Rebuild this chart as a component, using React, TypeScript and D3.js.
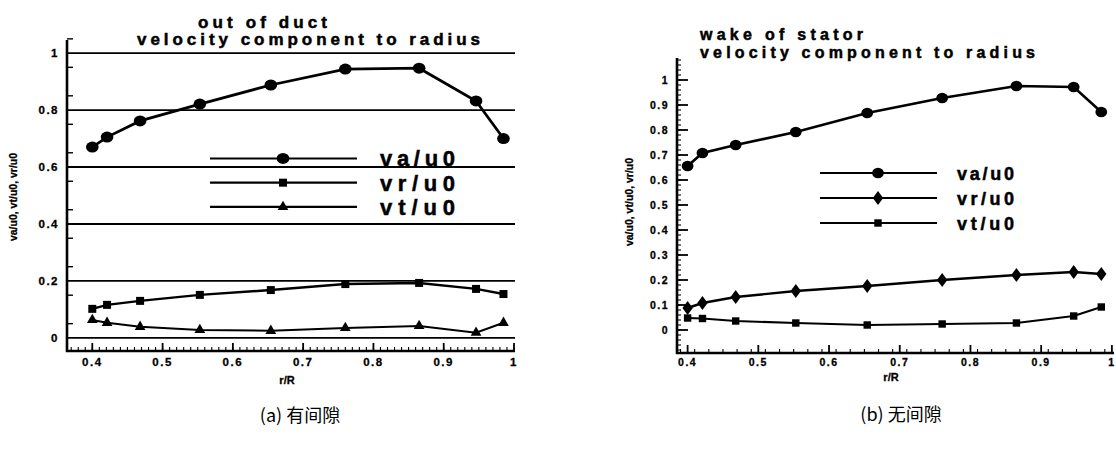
import React from 'react';
import * as d3 from 'd3';

// measuring stations r/R (shared by both panels)
const radius = [0.4, 0.421, 0.468, 0.553, 0.654, 0.76, 0.865, 0.946, 0.985];

// (a) out of duct
const ductVa = [0.67, 0.705, 0.762, 0.821, 0.888, 0.944, 0.947, 0.832, 0.7];
const ductVr = [0.102, 0.116, 0.13, 0.151, 0.168, 0.189, 0.193, 0.172, 0.154];
const ductVt = [0.063, 0.053, 0.039, 0.028, 0.025, 0.035, 0.042, 0.018, 0.053];

// (b) wake of stator
const statorVa = [0.656, 0.708, 0.74, 0.792, 0.868, 0.928, 0.976, 0.972, 0.872];
const statorVr = [0.088, 0.108, 0.132, 0.156, 0.176, 0.2, 0.22, 0.232, 0.224];
const statorVt = [0.048, 0.046, 0.036, 0.028, 0.02, 0.024, 0.028, 0.056, 0.092];

const xTicks = [0.4, 0.5, 0.6, 0.7, 0.8, 0.9, 1];
const ductYTicks = [0, 0.2, 0.4, 0.6, 0.8, 1];
const statorYTicks = [0, 0.1, 0.2, 0.3, 0.4, 0.5, 0.6, 0.7, 0.8, 0.9, 1];

const FONT = '"Liberation Sans", Arial, sans-serif';
const fmt = (v: number) => String(+v.toFixed(2));

type Series = { name: string; values: number[]; symbol: d3.SymbolType; size: number; width: number; sx?: number };

function Marker({ x, y, type, size, sx = 1 }: { x: number; y: number; type: d3.SymbolType; size: number; sx?: number }) {
  const p = d3.symbol().type(type).size(size)() || '';
  return <path d={p} transform={`translate(${x},${y}) scale(${sx},1)`} fill="#000" />;
}

// bold, slightly smeared text like the scanned original
const heavy = { fontWeight: 'bold' as const, fontFamily: FONT, stroke: '#000', strokeWidth: 0.5 };

function DuctPanel() {
  const x = d3.scaleLinear().domain([0.364, 1.0]).range([67, 514]);
  const y = d3.scaleLinear().domain([-0.046, 1.046]).range([351, 40]);
  const series: Series[] = [
    { name: 'va/u0', values: ductVa, symbol: d3.symbolCircle, size: 95, width: 2.8, sx: 1.15 },
    { name: 'vr/u0', values: ductVr, symbol: d3.symbolSquare, size: 64, width: 2.4 },
    { name: 'vt/u0', values: ductVt, symbol: d3.symbolTriangle, size: 50, width: 2 },
  ];
  const line = (vals: number[]) =>
    d3.line<number>().x((_, i) => x(radius[i])).y(d => y(d))(vals) || '';
  const minorX = d3.range(0.37, 1.0001, 0.01);
  const minorY = d3.range(0.05, 1.06, 0.1);
  const legendY = [0.63, 0.545, 0.46];
  return (
    <g>
      {ductYTicks.map(t => (
        <line key={'g' + t} x1={67} x2={515} y1={y(t)} y2={y(t)} stroke="#000" strokeWidth={1.8} />
      ))}
      {minorY.map(t => (
        <line key={'my' + t} x1={67} x2={73} y1={y(t)} y2={y(t)} stroke="#000" strokeWidth={1.4} />
      ))}
      {minorX.map(t => (
        <line key={'mx' + t} x1={x(t)} x2={x(t)} y1={351} y2={347} stroke="#000" strokeWidth={1.1} />
      ))}
      {xTicks.map(t => (
        <line key={'tx' + t} x1={x(t)} x2={x(t)} y1={351} y2={343} stroke="#000" strokeWidth={1.8} />
      ))}
      <line x1={67} x2={67} y1={40} y2={352} stroke="#000" strokeWidth={2.6} />
      <line x1={66} x2={515} y1={351} y2={351} stroke="#000" strokeWidth={2.6} />
      {ductYTicks.map(t => (
        <text key={'ly' + t} x={59} y={y(t) + 4} textAnchor="end" fontSize={11.5} letterSpacing={1.5} {...heavy} strokeWidth={0.3}>
          {fmt(t)}
        </text>
      ))}
      {xTicks.map(t => (
        <text key={'lx' + t} x={x(t)} y={366} textAnchor="middle" fontSize={11.5} letterSpacing={1.5} {...heavy} strokeWidth={0.3}>
          {fmt(t)}
        </text>
      ))}
      <text x={287} y={384} textAnchor="middle" fontSize={11} {...heavy} strokeWidth={0.3}>r/R</text>
      <text transform="translate(17,197) rotate(-90)" textAnchor="middle" fontSize={10.5} {...heavy} strokeWidth={0.3}>
        va/u0, vt/u0, vr/u0
      </text>
      <text x={198} y={28} fontSize={17} {...heavy} textLength={129} lengthAdjust="spacing">out of duct</text>
      <text x={137} y={45} fontSize={17} {...heavy} textLength={343} lengthAdjust="spacing">
        velocity component to radius
      </text>
      {series.map(s => (
        <g key={s.name}>
          <path d={line(s.values)} fill="none" stroke="#000" strokeWidth={s.width} />
          {s.values.map((v, i) => (
            <Marker key={i} x={x(radius[i])} y={y(v)} type={s.symbol} size={s.size} sx={s.sx} />
          ))}
        </g>
      ))}
      {series.map((s, i) => (
        <g key={'leg' + s.name}>
          <line x1={210} x2={357} y1={y(legendY[i])} y2={y(legendY[i])} stroke="#000" strokeWidth={2.2} />
          <Marker x={283} y={y(legendY[i])} type={s.symbol} size={s.size} sx={s.sx} />
          <text x={380} y={y(legendY[i]) + 8} fontSize={22} {...heavy} textLength={75} lengthAdjust="spacing">
            {s.name}
          </text>
        </g>
      ))}
    </g>
  );
}

function StatorPanel() {
  const x = d3.scaleLinear().domain([0.385, 1.003]).range([677, 1114]);
  const y = d3.scaleLinear().domain([-0.092, 1.088]).range([353, 58]);
  const series: Series[] = [
    { name: 'va/u0', values: statorVa, symbol: d3.symbolCircle, size: 90, width: 2.6, sx: 1.1 },
    { name: 'vr/u0', values: statorVr, symbol: d3.symbolDiamond, size: 55, width: 2.4, sx: 1.3 },
    { name: 'vt/u0', values: statorVt, symbol: d3.symbolSquare, size: 55, width: 2 },
  ];
  const line = (vals: number[]) =>
    d3.line<number>().x((_, i) => x(radius[i])).y(d => y(d))(vals) || '';
  const minorX = d3.range(0.39, 1.0001, 0.02);
  const minorY = d3.range(-0.08, 1.081, 0.02);
  const legendY = [0.628, 0.528, 0.428];
  return (
    <g>
      {minorY.map(t => (
        <line key={'my' + t} x1={677} x2={681} y1={y(t)} y2={y(t)} stroke="#000" strokeWidth={1.1} />
      ))}
      {statorYTicks.map(t => (
        <line key={'ty' + t} x1={677} x2={688} y1={y(t)} y2={y(t)} stroke="#000" strokeWidth={1.8} />
      ))}
      {minorX.map(t => (
        <line key={'mx' + t} x1={x(t)} x2={x(t)} y1={353} y2={349} stroke="#000" strokeWidth={1.1} />
      ))}
      {xTicks.map(t => (
        <line key={'tx' + t} x1={x(t)} x2={x(t)} y1={353} y2={345} stroke="#000" strokeWidth={1.8} />
      ))}
      <line x1={677} x2={677} y1={58} y2={354} stroke="#000" strokeWidth={2.6} />
      <line x1={676} x2={1114} y1={353} y2={353} stroke="#000" strokeWidth={2.6} />
      {statorYTicks.map(t => (
        <text key={'ly' + t} x={669} y={y(t) + 4} textAnchor="end" fontSize={10.5} letterSpacing={1.5} {...heavy} strokeWidth={0.3}>
          {fmt(t)}
        </text>
      ))}
      {xTicks.map(t => (
        <text key={'lx' + t} x={x(t)} y={366} textAnchor="middle" fontSize={10.5} letterSpacing={1.5} {...heavy} strokeWidth={0.3}>
          {fmt(t)}
        </text>
      ))}
      <text x={891} y={381} textAnchor="middle" fontSize={11} {...heavy} strokeWidth={0.3}>r/R</text>
      <text transform="translate(633,202) rotate(-90)" textAnchor="middle" fontSize={10.5} {...heavy} strokeWidth={0.3}>
        va/u0, vt/u0, vr/u0
      </text>
      <text x={700} y={40} fontSize={16} {...heavy} textLength={163} lengthAdjust="spacing">wake of stator</text>
      <text x={700} y={58} fontSize={16} {...heavy} textLength={335} lengthAdjust="spacing">
        velocity component to radius
      </text>
      {series.map(s => (
        <g key={s.name}>
          <path d={line(s.values)} fill="none" stroke="#000" strokeWidth={s.width} />
          {s.values.map((v, i) => (
            <Marker key={i} x={x(radius[i])} y={y(v)} type={s.symbol} size={s.size} sx={s.sx} />
          ))}
        </g>
      ))}
      {series.map((s, i) => (
        <g key={'leg' + s.name}>
          <line x1={820} x2={937} y1={y(legendY[i])} y2={y(legendY[i])} stroke="#000" strokeWidth={2.2} />
          <Marker x={878} y={y(legendY[i])} type={s.symbol} size={s.size} sx={s.sx} />
          <text x={957} y={y(legendY[i]) + 7} fontSize={18} {...heavy} textLength={57} lengthAdjust="spacing">
            {s.name}
          </text>
        </g>
      ))}
    </g>
  );
}

export default function App() {
  return (
    <svg
      width={1116}
      height={451}
      viewBox="0 0 1116 451"
      style={{ position: 'absolute', left: 0, top: 0, background: '#fff', display: 'block' }}
    >
      <rect width={1116} height={451} fill="#fff" />
      <DuctPanel />
      <StatorPanel />
      <text x={300} y={422} textAnchor="middle" fontSize={18} fontFamily='"Noto Sans CJK SC", sans-serif'>(a) 有间隙</text>
      <text x={901} y={421} textAnchor="middle" fontSize={18} fontFamily='"Noto Sans CJK SC", sans-serif'>(b) 无间隙</text>
    </svg>
  );
}
